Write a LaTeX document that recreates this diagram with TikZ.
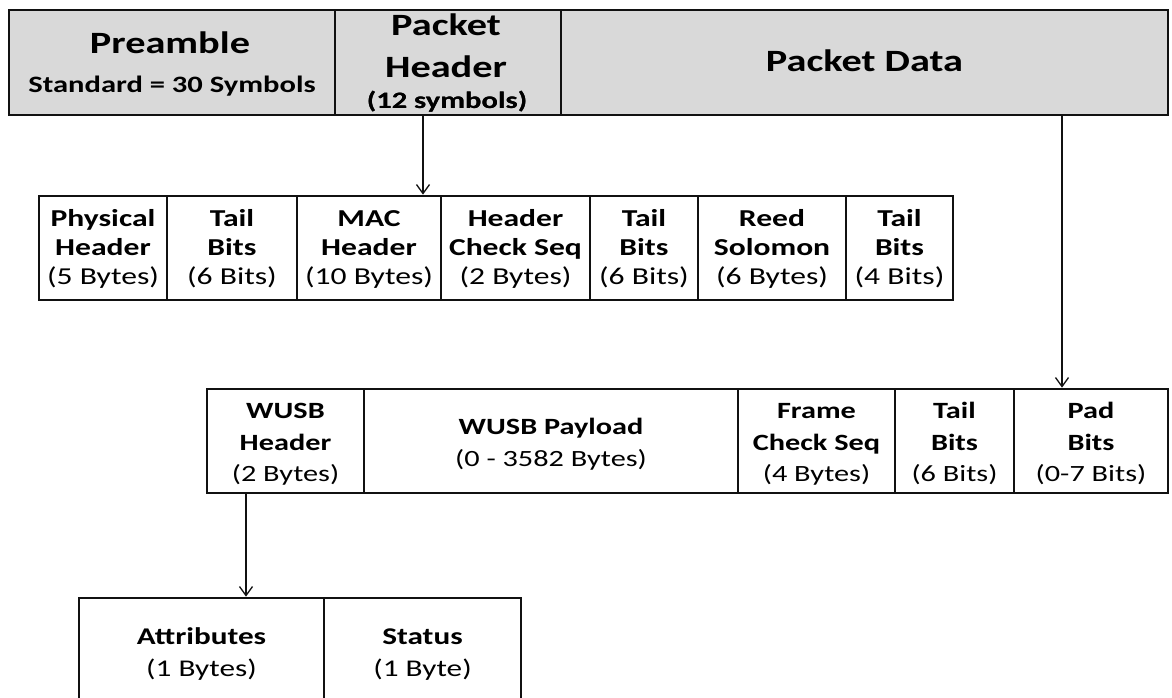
\documentclass[tikz,border=0pt]{standalone}
\usepackage{fontspec}
\setmainfont{Carlito}[FakeStretch=1.3]
\usetikzlibrary{arrows.meta,calc}

\definecolor{hdrfill}{HTML}{D9D9D9}
\definecolor{edge}{HTML}{111111}

% three-line and two-line cell labels: bold name line(s), regular size line
\newcommand\cellthree[3]{\strut\textbf{#1}\\\strut\textbf{#2}\\\strut #3}
\newcommand\celltwo[2]{\strut\textbf{#1}\\\strut #2}

\tikzset{
  field/.style={draw=edge, line width=2.7pt, inner sep=0pt, fill=white},
  hdr/.style={field, fill=hdrfill},
  big/.style={font=\fontsize{31}{36}\selectfont\bfseries, inner sep=0pt, anchor=base},
  small/.style={font=\fontsize{23.5}{28}\selectfont\bfseries, inner sep=0pt, anchor=base},
  rowtwo/.style={font=\fontsize{24.3}{29}\selectfont, align=center, inner sep=0pt},
  rowthree/.style={font=\fontsize{23.3}{31.5}\selectfont, align=center, inner sep=0pt},
  rowfour/.style={font=\fontsize{24}{32}\selectfont, align=center, inner sep=0pt},
  arr/.style={draw=edge, line width=1.3pt, -{Straight Barb[length=9pt,width=13pt,line width=1.3pt]}}
}

\begin{document}
\begin{tikzpicture}[x=1pt,y=-1pt]
\clip (0,0) rectangle (1172,698);
\fill[white] (0,0) rectangle (1172,698);

% ---- packet layout ----
\node[hdr, minimum width=326pt, minimum height=105pt] (pre) at (172,62.5) {};
\node[hdr, minimum width=226pt, minimum height=105pt] (ph)  at (448,62.5) {};
\node[hdr, minimum width=607pt, minimum height=105pt] (pd)  at (864.5,62.5) {};

\node[big]   (pre-a) at ($(pre.north)+(-2,45)$) {Preamble};
\node[small] (pre-b) at ($(pre.north)+(0,84)$)  {Standard = 30 Symbols};
\node[big]   (ph-a)  at ($(ph.north)+(-2,27)$)  {Packet};
\node[big]   (ph-b)  at ($(ph.north)+(-2,69)$)  {Header};
\node[small] (ph-c)  at ($(ph.north)+(-1,100)$) {(12 symbols)};
\node[big]   (pd-a)  at ($(pd.north)+(0,63)$)   {Packet Data};

% ---- packet header fields ----
\node[field, minimum width=128pt, minimum height=104pt] (phy) at (103,248) {};
\node[field, minimum width=130pt, minimum height=104pt] (tb1) at (232,248) {};
\node[field, minimum width=144pt, minimum height=104pt] (mac) at (369,248) {};
\node[field, minimum width=149pt, minimum height=104pt] (hcs) at (515.5,248) {};
\node[field, minimum width=108pt, minimum height=104pt] (tb2) at (644,248) {};
\node[field, minimum width=148pt, minimum height=104pt] (rs)  at (772,248) {};
\node[field, minimum width=107pt, minimum height=104pt] (tb3) at (899.5,248) {};

\node[rowtwo] (phy-t) at ([yshift=-1.2pt]phy.center) {\cellthree{Physical}{Header}{(5 Bytes)}};
\node[rowtwo] (tb1-t) at ([yshift=-1.2pt]tb1.center) {\cellthree{Tail}{Bits}{(6 Bits)}};
\node[rowtwo] (mac-t) at ([yshift=-1.2pt]mac.center) {\cellthree{MAC}{Header}{(10 Bytes)}};
\node[rowtwo] (hcs-t) at ([yshift=-1.2pt]hcs.center) {\cellthree{Header}{Check Seq}{(2 Bytes)}};
\node[rowtwo] (tb2-t) at ([yshift=-1.2pt]tb2.center) {\cellthree{Tail}{Bits}{(6 Bits)}};
\node[rowtwo] (rs-t)  at ([yshift=-1.2pt]rs.center)  {\cellthree{Reed}{Solomon}{(6 Bytes)}};
\node[rowtwo] (tb3-t) at ([yshift=-1.2pt]tb3.center) {\cellthree{Tail}{Bits}{(4 Bits)}};

% ---- packet data fields ----
\node[field, minimum width=157pt, minimum height=104pt] (wh)  at (285.5,441) {};
\node[field, minimum width=374pt, minimum height=104pt] (wp)  at (551,441) {};
\node[field, minimum width=157pt, minimum height=104pt] (fcs) at (816.5,441) {};
\node[field, minimum width=119pt, minimum height=104pt] (tb4) at (954.5,441) {};
\node[field, minimum width=154pt, minimum height=104pt] (pad) at (1091,441) {};

\node[rowthree] (wh-t)  at ([yshift=-3pt]wh.center)  {\cellthree{WUSB}{Header}{(2 Bytes)}};
\node[rowthree] (wp-t)  at ([yshift=-3pt]wp.center)  {\celltwo{WUSB Payload}{(0 - 3582 Bytes)}};
\node[rowthree] (fcs-t) at ([yshift=-3pt]fcs.center) {\cellthree{Frame}{Check Seq}{(4 Bytes)}};
\node[rowthree] (tb4-t) at ([yshift=-3pt]tb4.center) {\cellthree{Tail}{Bits}{(6 Bits)}};
\node[rowthree] (pad-t) at ([yshift=-3pt]pad.center) {\cellthree{Pad}{Bits}{(0-7 Bits)}};

% ---- WUSB header fields ----
\node[field, minimum width=245pt, minimum height=132pt] (att) at (201.5,664) {};
\node[field, minimum width=197pt, minimum height=132pt] (sta) at (422.5,664) {};

\node[rowfour] (att-t) at (201.5,653.6) {\celltwo{Attributes}{(1 Bytes)}};
\node[rowfour] (sta-t) at (422.5,653.6) {\celltwo{Status}{(1 Byte)}};

% ---- expansion arrows ----
\draw[arr] ([xshift=-25pt]ph.south) -- ([xshift=-25pt]ph.south |- mac.north);
\draw[arr] ([xshift=-29pt]pad.north |- pd.south) -- ([xshift=-29pt]pad.north);
\draw[arr] ([xshift=-39.5pt]wh.south) -- ([xshift=-39.5pt]wh.south |- att.north);

% header label drawn over the border it crosses
\node[small] at (ph-c.base) {(12 symbols)};
\end{tikzpicture}
\end{document}
